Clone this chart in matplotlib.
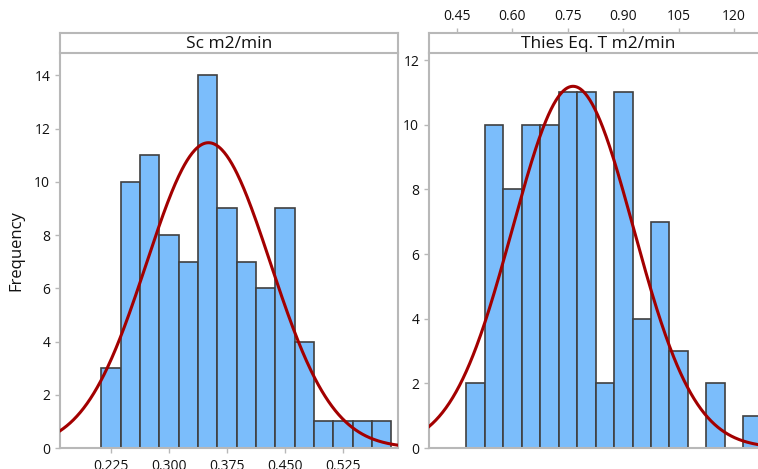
import numpy as np
import matplotlib.pyplot as plt

plt.rcParams['font.family'] = ['Open Sans', 'DejaVu Sans']

# left panel: Sc m2/min, bins of 0.025
sc_centers = [0.225, 0.250, 0.275, 0.300, 0.325, 0.350, 0.375, 0.400,
              0.425, 0.450, 0.475, 0.500, 0.525, 0.550, 0.575]
sc_counts = [3, 10, 11, 8, 7, 14, 9, 7, 6, 9, 4, 1, 1, 1, 1]
sc_width = 0.025
sc_mean, sc_std = 0.351, 0.080
sc_ticks = [0.225, 0.300, 0.375, 0.450, 0.525]
sc_ticklabels = ['0.225', '0.300', '0.375', '0.450', '0.525']

# right panel: Thies Eq. T m2/min, bins of 0.05
th_centers = [0.50, 0.55, 0.60, 0.65, 0.70, 0.75, 0.80, 0.85,
              0.90, 0.95, 1.00, 1.05, 1.10, 1.15, 1.20, 1.25]
th_counts = [2, 10, 8, 10, 10, 11, 11, 2, 11, 4, 7, 3, 0, 2, 0, 1]
th_width = 0.05
th_mean, th_std = 0.764, 0.164
th_ticks = [0.45, 0.60, 0.75, 0.90, 1.05, 1.20]
th_ticklabels = ['0.45', '0.60', '0.75', '0.90', '105', '120']

bar_col = '#7bbdfb'
edge_col = '#404040'
curve_col = '#a30000'
frame_col = '#b8b8b8'
text_col = '#111111'

W, H = 758, 469
fig = plt.figure(figsize=(W / 100, H / 100), dpi=100)


def fr(x0, y0, x1, y1):
    # pixel box (top-left origin) -> figure fraction
    return [x0 / W, 1 - y1 / H, (x1 - x0) / W, (y1 - y0) / H]


def panel(box, hbox, centers, counts, width, mean, std, xlim, ylim):
    ax = fig.add_axes(fr(*box))
    ax.bar(centers, counts, width=width, color=bar_col, edgecolor=edge_col,
           linewidth=1.2, zorder=2)
    n = sum(counts)
    xs = np.linspace(xlim[0], xlim[1], 400)
    ys = n * width / (std * np.sqrt(2 * np.pi)) * np.exp(-0.5 * ((xs - mean) / std) ** 2)
    ax.plot(xs, ys, color=curve_col, lw=2.2, zorder=3)
    ax.set_xlim(*xlim)
    ax.set_ylim(*ylim)
    for s in ax.spines.values():
        s.set_color(frame_col)
        s.set_linewidth(1.5)
    ax.spines['top'].set_visible(False)
    ax.tick_params(colors=frame_col, labelcolor=text_col, labelsize=10,
                   length=3.5, width=1.0)
    ax.tick_params(axis='x', pad=4.5)
    ax.set_yticks(range(0, int(ylim[1]) + 1, 2))
    hx = fig.add_axes(fr(*hbox))
    hx.set_xlim(*xlim)
    hx.set_yticks([])
    for s in hx.spines.values():
        s.set_color(frame_col)
        s.set_linewidth(1.5)
    return ax, hx


ax1, hx1 = panel((60, 53, 398, 448), (60, 33, 398, 53), sc_centers, sc_counts,
                 sc_width, sc_mean, sc_std, (0.159, 0.596), (0, 14.84))
ax1.set_xticks(sc_ticks)
ax1.set_xticklabels(sc_ticklabels)
ax1.set_ylabel('Frequency', fontsize=12, color=text_col, labelpad=7)
hx1.set_xticks([])
hx1.text(0.5, 0.45, 'Sc m2/min', ha='center', va='center', fontsize=12.5,
         color=text_col, transform=hx1.transAxes)

ax2, hx2 = panel((429, 53, 767, 448), (429, 33, 767, 53), th_centers, th_counts,
                 th_width, th_mean, th_std, (0.3742, 1.289), (0, 12.22))
ax2.set_xticks([])
hx2.set_xticks(th_ticks)
hx2.set_xticklabels(th_ticklabels)
hx2.xaxis.tick_top()
hx2.tick_params(colors=frame_col, labelcolor=text_col, labelsize=10,
                length=3.5, width=1.0, pad=3)
hx2.text(0.5, 0.45, 'Thies Eq. T m2/min', ha='center', va='center', fontsize=12.5,
         color=text_col, transform=hx2.transAxes)

fig.savefig('out.png', dpi=100)
